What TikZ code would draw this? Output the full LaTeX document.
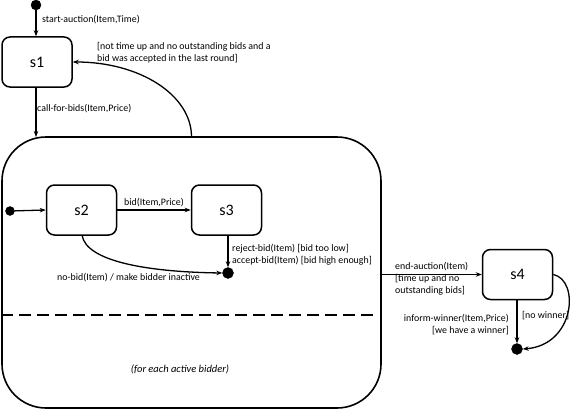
\documentclass[tikz,border=0pt]{standalone}
\usepackage{fontspec}
\setmainfont{Carlito}
\usetikzlibrary{arrows.meta}
\begin{document}
\begin{tikzpicture}[x=1pt,y=-1pt,
  state/.style={draw,line width=1.5pt,rounded corners=8pt,minimum width=70pt,minimum height=50pt,font=\fontsize{16}{16}\selectfont,inner sep=0pt},
  dot/.style={circle,fill=black,draw=black,inner sep=0pt,minimum size=9pt},
  edge/.style={line width=1.3pt,-{Stealth[length=6pt,width=4.5pt]}},
  lbl/.style={font=\fontsize{9.9}{12}\selectfont,inner sep=0pt},
]
\useasboundingbox (0,0) rectangle (570,412);
% composite
\node[draw,line width=1.6pt,rounded corners=44pt,minimum width=379pt,minimum height=271pt,inner sep=0pt] (comp) at (191.5,272.5) {};
\draw[line width=1.6pt,dash pattern=on 12pt off 6pt] (comp.west |- 0,315) coordinate (dl) -- (379,315) coordinate (dr);
\node[lbl,font=\fontsize{10.5}{12}\selectfont\itshape] (each) at (180,369) {(for each active bidder)};
% top
\node[dot,minimum size=10pt] (i0) at (36,5) {};
\node[state] (s1) at (37,62) {s1};
\draw[edge] (i0) -- (s1.north -| i0);
\node[lbl,anchor=west] (l0) at (42,20) {start-auction(Item,Time)};
\coordinate (c1) at (36,137);
\draw[edge] (s1.south -| c1) -- (c1);
\node[lbl,anchor=west] (l1) at (37,109) {call-for-bids(Item,Price)};
\draw[edge] (comp.north) .. controls (191,95) and (140,62) .. (s1.east);
\node[lbl,anchor=west,align=left] (l2) at (97,53) {{[}not time up and no outstanding bids and a\\bid was accepted in the last round{]}};
% inner
\node[dot] (i1) at (10,211) {};
\node[state] (s2) at (81.5,210) {s2};
\node[state] (s3) at (226.5,210) {s3};
\node[dot,minimum size=11pt] (f1) at (228,273) {};
\draw[edge] (i1) -- (s2.west);
\draw[edge] (s2.east) -- (s3.west);
\node[lbl,anchor=west] (l3) at (124,203) {bid(Item,Price)};
\draw[edge] (s3.south -| f1) -- (f1.north);
\node[lbl,anchor=west,align=left] (l4) at (232,255) {reject-bid(Item) {[}bid too low{]}\\accept-bid(Item) {[}bid high enough{]}};
\draw[edge] (82,235) .. controls (86,262) and (150,272) .. (f1.west);
\node[lbl,anchor=west] (l5) at (57,278) {no-bid(Item) / make bidder inactive};
% s4
\node[state] (s4) at (517.5,274.5) {s4};
\draw[edge] (comp.east |- s4.west) -- (s4.west);
\node[lbl,anchor=west,align=left] (l6) at (395,278.5) {end-auction(Item)\\{[}time up and no\\outstanding bids{]}};
\node[dot,minimum size=11pt] (f2) at (517,349) {};
\draw[edge] (s4.south -| f2) -- (f2.north);
\node[lbl,anchor=east,align=right] (l7) at (509,325) {inform-winner(Item,Price)\\{[}we have a winner{]}};
\draw[edge] (s4.east) .. controls (580,280) and (575,345) .. (f2.east);
\node[lbl,anchor=west] (l8) at (522,316) {{[}no winner{]}};
\end{tikzpicture}
\end{document}
